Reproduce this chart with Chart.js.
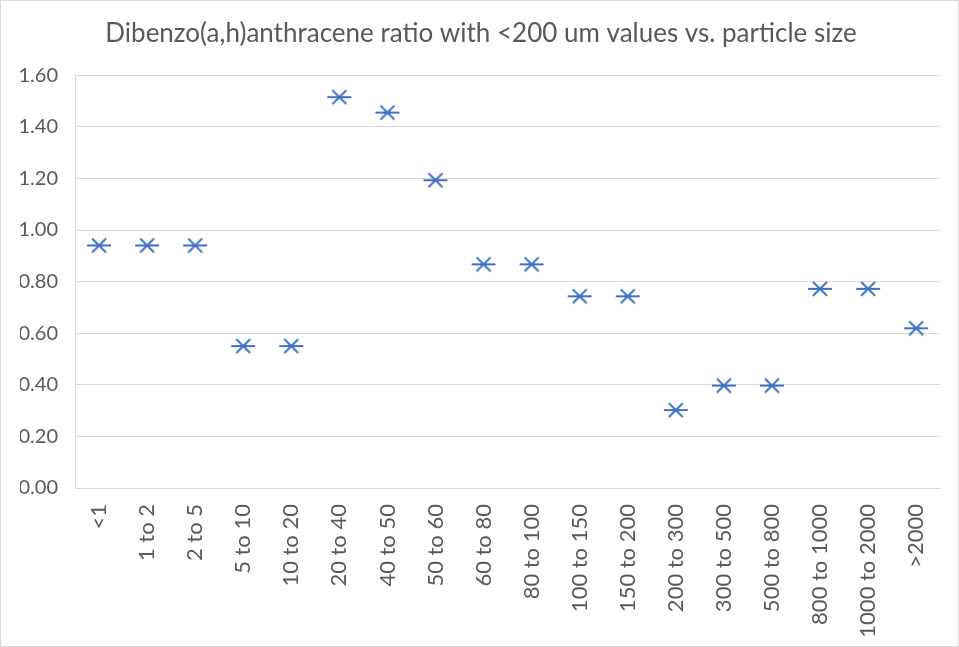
<!DOCTYPE html>
<html>
<head>
<meta charset="utf-8">
<script src="https://cdn.jsdelivr.net/npm/chart.js@4/dist/chart.umd.min.js"></script>
<style>
  html, body { margin: 0; padding: 0; background: #fff; }
  #wrap { width: 959px; height: 647px; position: relative; }
</style>
</head>
<body>
<div id="wrap"><canvas id="chart" width="959" height="647"></canvas></div>
<script>
// Particle size classes (um)
const sizeClasses = [
  '<1', '1 to 2', '2 to 5', '5 to 10', '10 to 20', '20 to 40', '40 to 50',
  '50 to 60', '60 to 80', '80 to 100', '100 to 150', '150 to 200',
  '200 to 300', '300 to 500', '500 to 800', '800 to 1000', '1000 to 2000', '>2000'
];

// Dibenzo(a,h)anthracene ratio relative to the <200 um values
const ratioValues = [
  0.94, 0.94, 0.94, 0.55, 0.55, 1.515, 1.455, 1.193, 0.867, 0.867,
  0.743, 0.743, 0.302, 0.397, 0.397, 0.772, 0.772, 0.619
];

const yTickMin = 0;
const yTickMax = 1.6;
const yTickStep = 0.2;

const chartTitle = 'Dibenzo(a,h)anthracene ratio with <200 um values vs. particle size';

const FONT = 'Lato, "Open Sans", sans-serif';
const TEXT_GREY = '#595959';
const GRID_GREY = '#d9d9d9';
const SERIES_BLUE = '#4170c0';

// Asterisk marker: horizontal bar crossed by two diagonals
function makeAsterisk() {
  const c = document.createElement('canvas');
  c.width = 26; c.height = 18;
  const g = c.getContext('2d');
  g.strokeStyle = SERIES_BLUE;
  g.lineWidth = 2;
  g.lineCap = 'butt';
  const cx = 13, cy = 9;
  g.beginPath();
  g.moveTo(cx - 12, cy); g.lineTo(cx + 12, cy);
  g.moveTo(cx - 7, cy - 7); g.lineTo(cx + 7, cy + 7);
  g.moveTo(cx - 7, cy + 7); g.lineTo(cx + 7, cy - 7);
  g.stroke();
  return c;
}

// White background and thin frame around the whole figure
const framePlugin = {
  id: 'frame',
  beforeDraw(chart) {
    const { ctx, width, height } = chart;
    ctx.save();
    ctx.fillStyle = '#fff';
    ctx.fillRect(0, 0, width, height);
    ctx.strokeStyle = GRID_GREY;
    ctx.lineWidth = 1;
    ctx.strokeRect(0.5, 0.5, width - 1, height - 1);
    ctx.restore();
  }
};

new Chart(document.getElementById('chart'), {
  type: 'line',
  data: {
    labels: sizeClasses,
    datasets: [{
      data: ratioValues,
      showLine: false,
      pointStyle: makeAsterisk(),
      pointRadius: 10,
      pointHoverRadius: 10,
      borderColor: SERIES_BLUE,
      backgroundColor: SERIES_BLUE
    }]
  },
  plugins: [framePlugin],
  options: {
    responsive: false,
    animation: false,
    events: [],
    layout: { padding: { left: 20, right: 17, top: 0, bottom: 0 } },
    plugins: {
      legend: { display: false },
      tooltip: { enabled: false },
      title: {
        display: true,
        text: chartTitle,
        color: TEXT_GREY,
        font: { family: FONT, size: 26, weight: 'normal' },
        padding: { top: 18, bottom: 26 }
      }
    },
    scales: {
      x: {
        type: 'category',
        offset: true,
        grid: { display: false, drawTicks: false },
        border: { display: true, color: GRID_GREY, width: 1 },
        ticks: {
          color: TEXT_GREY,
          font: { family: FONT, size: 22 },
          minRotation: 90,
          maxRotation: 90,
          padding: 16,
          autoSkip: false
        },
        afterFit(scale) { scale.height = 159; }
      },
      y: {
        min: yTickMin,
        max: yTickMax,
        grid: { color: GRID_GREY, lineWidth: 1, drawTicks: false },
        border: { display: true, color: GRID_GREY, width: 1 },
        ticks: {
          stepSize: yTickStep,
          color: TEXT_GREY,
          font: { family: FONT, size: 20 },
          padding: 17,
          callback: (v) => Number(v).toFixed(2)
        },
        afterFit(scale) { scale.width = 55; }
      }
    }
  }
});
</script>
</body>
</html>
